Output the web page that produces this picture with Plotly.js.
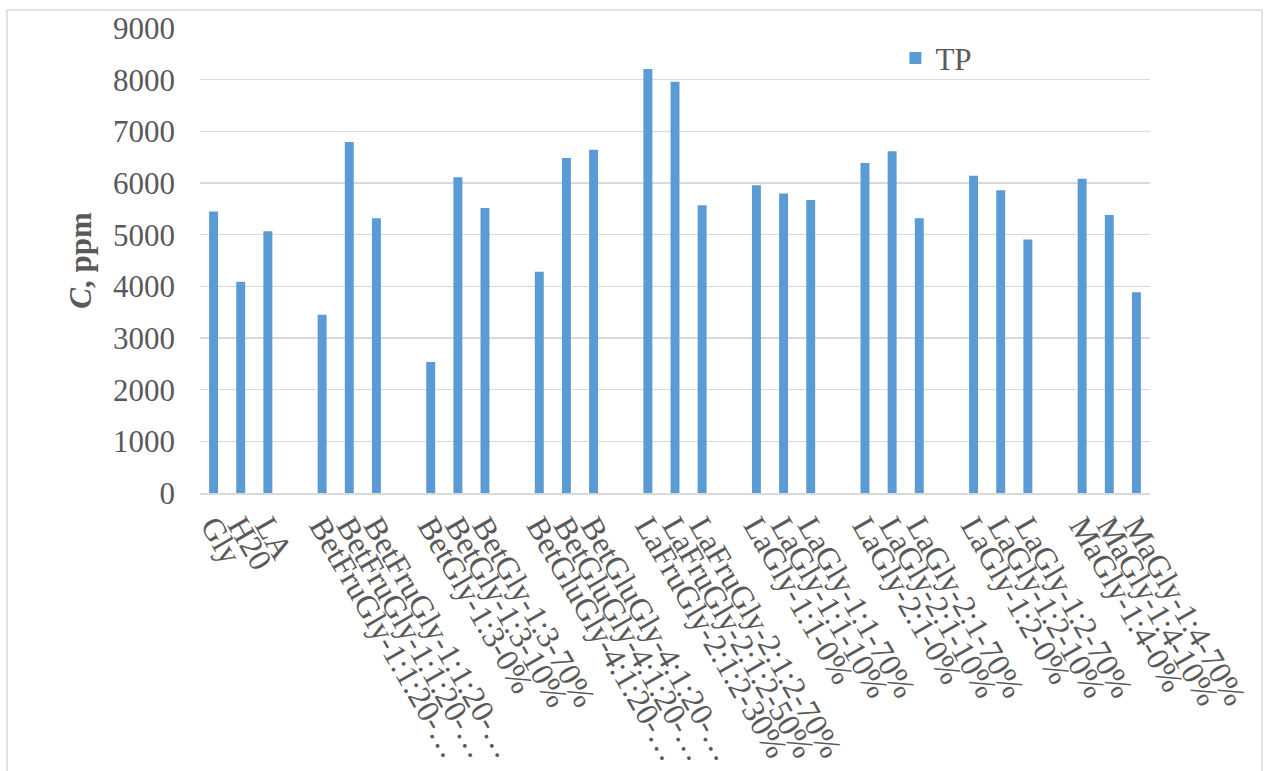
<!DOCTYPE html>
<html>
<head>
<meta charset="utf-8">
<script src="https://cdn.plot.ly/plotly-3.0.1.min.js"></script>
<style>html,body{margin:0;padding:0;background:#fff;}#chart{width:1264px;height:771px;}</style>
</head>
<body>
<div id="chart"></div>
<script>
// Category labels (empty strings are the blank spacer slots between groups)
const categories = [
  "Gly", "H20", "LA", "",
  "BetFruGly-1:1:20-…", "BetFruGly-1:1:20-…", "BetFruGly-1:1:20-…", "",
  "BetGly-1:3-0%", "BetGly-1:3-10%", "BetGly-1:3-70%", "",
  "BetGluGly-4:1:20-…", "BetGluGly-4:1:20-…", "BetGluGly-4:1:20-…", "",
  "LaFruGly-2:1:2-30%", "LaFruGly-2:1:2-50%", "LaFruGly-2:1:2-70%", "",
  "LaGly-1:1-0%", "LaGly-1:1-10%", "LaGly-1:1-70%", "",
  "LaGly-2:1-0%", "LaGly-2:1-10%", "LaGly-2:1-70%", "",
  "LaGly-1:2-0%", "LaGly-1:2-10%", "LaGly-1:2-70%", "",
  "MaGly-1:4-0%", "MaGly-1:4-10%", "MaGly-1:4-70%"
];
// TP series (ppm); null for spacer slots
const tpValues = [
  5450, 4090, 5065, null,
  3450, 6795, 5320, null,
  2535, 6110, 5515, null,
  4280, 6485, 6645, null,
  8205, 7960, 5570, null,
  5955, 5795, 5670, null,
  6385, 6615, 5320, null,
  6140, 5860, 4905, null,
  6080, 5380, 3885
];
const yTicks = [0, 1000, 2000, 3000, 4000, 5000, 6000, 7000, 8000, 9000];
const seriesName = "TP";

const positions = categories.map((_, i) => i);
const FONT = "Liberation Serif, Times New Roman, serif";
const GREY = "#595959";

const trace = {
  type: "bar",
  name: seriesName,
  x: positions,
  y: tpValues,
  marker: {color: "#5B9BD5"},
  showlegend: true,
  hoverinfo: "y"
};

const layout = {
  width: 1264,
  height: 771,
  margin: {l: 200, r: 114, t: 28, b: 278, pad: 0},
  paper_bgcolor: "#ffffff",
  plot_bgcolor: "#ffffff",
  bargap: 0.67,
  font: {family: FONT, color: GREY, size: 31},
  showlegend: true,
  legend: {
    x: 0.732, xanchor: "left",
    y: 0.993, yanchor: "top",
    bgcolor: "rgba(0,0,0,0)",
    font: {family: FONT, size: 31, color: GREY}
  },
  xaxis: {
    type: "linear",
    range: [-0.5, categories.length - 0.5],
    tickmode: "array",
    tickvals: positions,
    ticktext: categories,
    tickangle: 60,
    ticks: "",
    showgrid: false,
    zeroline: false,
    showline: true,
    linecolor: "#D9D9D9",
    linewidth: 1.5,
    tickfont: {family: FONT, size: 32, color: GREY},
    automargin: false
  },
  yaxis: {
    range: [0, 9000],
    tickmode: "array",
    tickvals: yTicks,
    ticktext: yTicks.map(String),
    ticks: "",
    ticklabelstandoff: 24,
    showgrid: true,
    gridcolor: "#D9D9D9",
    gridwidth: 1.5,
    zeroline: false,
    showline: false,
    tickfont: {family: FONT, size: 31, color: GREY},
    title: {
      text: "<b><i>C</i>, ppm</b>",
      font: {family: FONT, size: 31, color: GREY},
      standoff: 12
    },
    automargin: false
  },
  shapes: [{
    type: "rect", xref: "paper", yref: "paper",
    x0: (7 - 200) / 950, x1: (1262 - 200) / 950,
    y0: (493 - 790) / 465, y1: (493 - 10) / 465,
    line: {color: "#D9D9D9", width: 1.5},
    fillcolor: "rgba(0,0,0,0)",
    layer: "below"
  }]
};

Plotly.newPlot("chart", [trace], layout, {displayModeBar: false, staticPlot: true});
</script>
</body>
</html>
